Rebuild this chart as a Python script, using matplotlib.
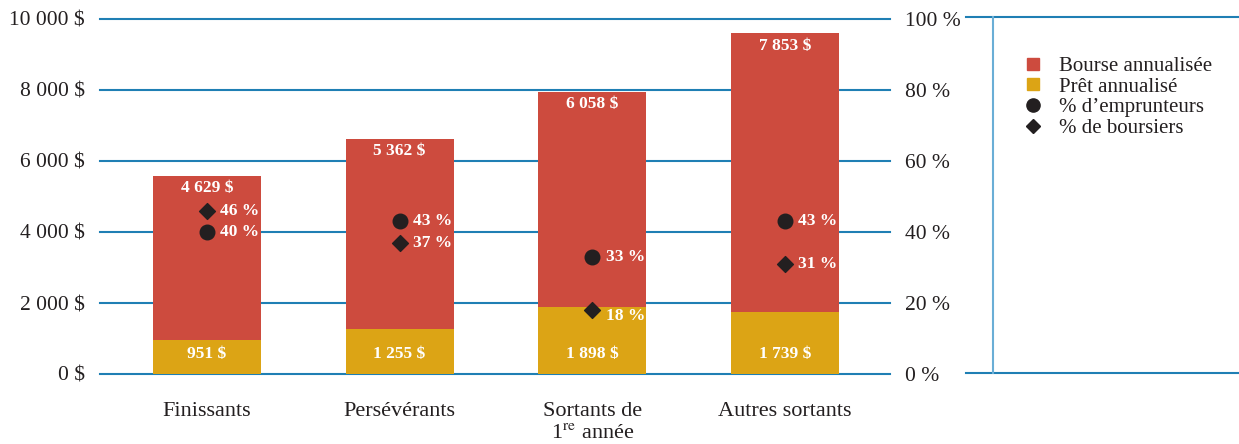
import matplotlib
matplotlib.use("Agg")
import matplotlib.pyplot as plt
from matplotlib.lines import Line2D
import numpy as np

categories = ["Finissants", "Persévérants", "Sortants de\n1$^{\\mathrm{re}}$ année", "Autres sortants"]
pret = [951, 1255, 1898, 1739]
bourse = [4629, 5362, 6058, 7853]
pct_emprunteurs = [40, 43, 33, 43]
pct_boursiers = [46, 37, 18, 31]
left_ticks = [0, 2000, 4000, 6000, 8000, 10000]
left_ticklabels = ["0 $", "2 000 $", "4 000 $", "6 000 $", "8 000 $", "10 000 $"]
right_ticks = [0, 20, 40, 60, 80, 100]
right_ticklabels = ["0 %", "20 %", "40 %", "60 %", "80 %", "100 %"]

RED = "#cd4b3e"
GOLD = "#dca415"
BLUE = "#1f7fb4"
LIGHTBLUE = "#6aaed6"
DARK = "#231f20"
TXT = "#231f20"

plt.rcParams["font.family"] = ["Liberation Serif", "DejaVu Serif"]
plt.rcParams["mathtext.fontset"] = "stix"

W, H = 1239, 444
fig = plt.figure(figsize=(W / 100, H / 100), dpi=100)
ax_l, ax_r, ax_b, ax_t = 100, 890, 374, 19
ax = fig.add_axes([ax_l / W, 1 - ax_b / H, (ax_r - ax_l) / W, (ax_b - ax_t) / H])

x = np.arange(len(categories))
bw = 0.56
ax.bar(x, pret, bw, color=GOLD, zorder=3)
ax.bar(x, bourse, bw, bottom=pret, color=RED, zorder=3)

ax.set_xlim(-0.555, 3.545)
ax.set_ylim(0, 10000)
ax.set_yticks(left_ticks)
ax.set_yticklabels(left_ticklabels, fontsize=15.5, color=TXT)
ax.set_xticks(x)
ax.set_xticklabels(categories, fontsize=16, color=TXT, linespacing=1.25)
ax.tick_params(axis="both", length=0)
ax.tick_params(axis="y", pad=11)
ax.tick_params(axis="x", pad=20)
for s in ax.spines.values():
    s.set_visible(False)
for t in left_ticks:
    ax.axhline(t, color=BLUE, lw=1.5, zorder=1, clip_on=False)

lab_kw = dict(color="white", fontsize=12.5, fontweight="bold", ha="center", va="center", zorder=5)
for i in range(len(categories)):
    top = pret[i] + bourse[i]
    ax.text(x[i], top - 340, f"{bourse[i]:,}".replace(",", " ") + " $", **lab_kw)
    ax.text(x[i], 550, f"{pret[i]:,}".replace(",", " ") + " $", **lab_kw)

ax2 = ax.twinx()
ax2.set_ylim(0, 100)
ax2.set_yticks(right_ticks)
ax2.set_yticklabels(right_ticklabels, fontsize=15.5, color=TXT)
ax2.tick_params(axis="y", length=0, pad=11)
for s in ax2.spines.values():
    s.set_visible(False)

ax2.scatter(x, pct_emprunteurs, marker="o", s=110, color=DARK, zorder=6)
ax2.scatter(x, pct_boursiers, marker="D", s=65, color=DARK, zorder=6)
pk = dict(color="white", fontsize=12.5, fontweight="bold", ha="left", va="center", zorder=7)
for i in range(len(categories)):
    ax2.text(x[i] + 0.07, pct_emprunteurs[i], f"{pct_emprunteurs[i]} %", **pk)
    dy = -1.8 if pct_boursiers[i] < 25 else 0
    ax2.text(x[i] + 0.07, pct_boursiers[i] + dy, f"{pct_boursiers[i]} %", **pk)

# legend frame lines
def fx(px):
    return px / W
def fy(py):
    return 1 - py / H
fig.add_artist(Line2D([fx(966), fx(1239)], [fy(17), fy(17)], color=BLUE, lw=1.5))
fig.add_artist(Line2D([fx(966), fx(1239)], [fy(373), fy(373)], color=BLUE, lw=1.5))
fig.add_artist(Line2D([fx(993), fx(993)], [fy(17), fy(373)], color=LIGHTBLUE, lw=1.5))

handles = [
    Line2D([], [], marker="s", ls="", color=RED, markersize=8),
    Line2D([], [], marker="s", ls="", color=GOLD, markersize=8),
    Line2D([], [], marker="o", ls="", color=DARK, markersize=9.5),
    Line2D([], [], marker="D", ls="", color=DARK, markersize=7.5),
]
labels = ["Bourse annualisée", "Prêt annualisé", "% d’emprunteurs", "% de boursiers"]
fig.legend(handles, labels, loc="upper left", bbox_to_anchor=(fx(1012), fy(46)),
           frameon=False, fontsize=15, handlelength=1.0, handletextpad=0.75,
           labelspacing=0.05, borderpad=0, labelcolor=TXT)

fig.savefig("out.png", dpi=100)
